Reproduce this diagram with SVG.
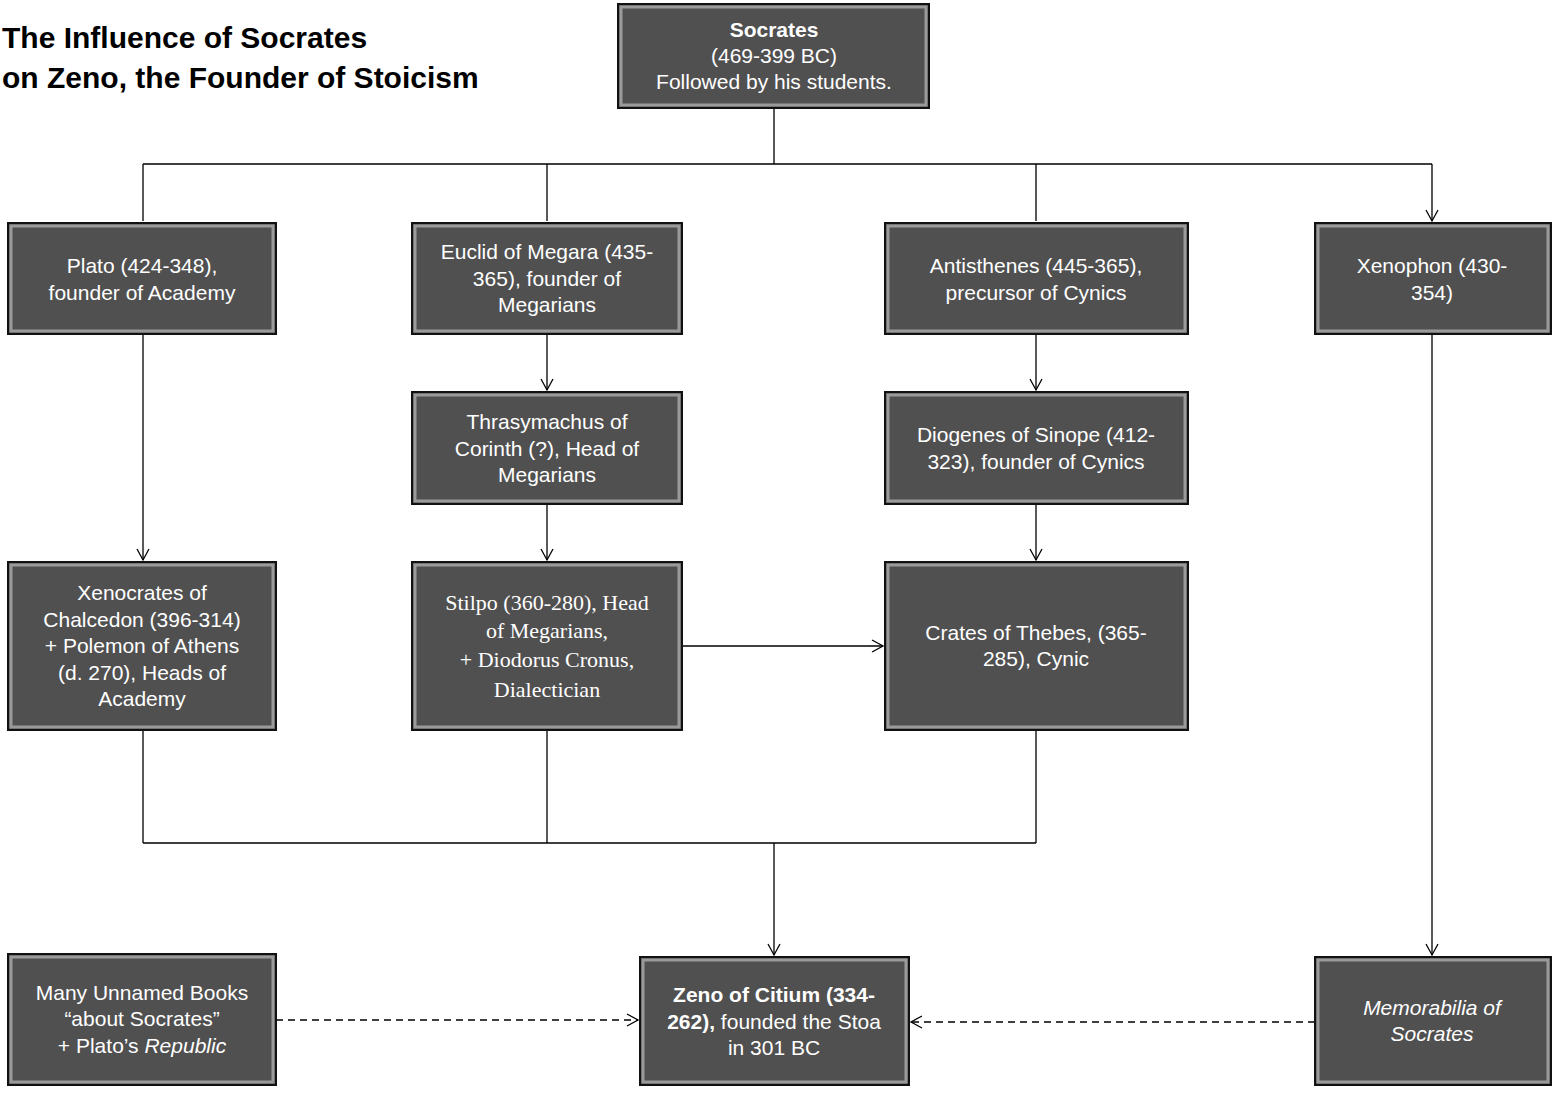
<svg xmlns="http://www.w3.org/2000/svg" width="1557" height="1096" viewBox="0 0 1557 1096">
<style>
.b{fill:#505050;stroke:#111;stroke-width:2}
.hi{fill:none;stroke:#9a9a9a;stroke-width:3}
.t{font-family:"Liberation Sans",Arial,sans-serif;font-size:21px;fill:#fff;text-anchor:middle}
.s{font-family:"Liberation Serif","Times New Roman",serif;font-size:22px;fill:#fff;text-anchor:middle}
.c{stroke:#000;stroke-width:1.3;fill:none}
.d{stroke-dasharray:7,5}
.ttl{font-family:"Liberation Sans",Arial,sans-serif;font-size:30px;font-weight:bold;fill:#000}
</style>
<defs>
<marker id="a" markerWidth="14" markerHeight="14" refX="12" refY="7" orient="auto" markerUnits="userSpaceOnUse"><path d="M1,1 L12,7 L1,13" fill="none" stroke="#000" stroke-width="1.3"/></marker>
</defs>
<text class="ttl" x="2" y="48">The Influence of Socrates</text>
<text class="ttl" x="2" y="88">on Zeno, the Founder of Stoicism</text>
<g id="connectors">
<path class="c" d="M774,108 V164 M143,164 H1432"/>
<path class="c" d="M143,164 V221 M547,164 V221 M1036,164 V221 M1432,164 V221" marker-end="url(#a)"/>
<path class="c" d="M143,334 V560" marker-end="url(#a)"/>
<path class="c" d="M547,334 V390" marker-end="url(#a)"/>
<path class="c" d="M547,504 V560" marker-end="url(#a)"/>
<path class="c" d="M1036,334 V390" marker-end="url(#a)"/>
<path class="c" d="M1036,504 V560" marker-end="url(#a)"/>
<path class="c" d="M1432,334 V955" marker-end="url(#a)"/>
<path class="c" d="M682,646 H883" marker-end="url(#a)"/>
<path class="c" d="M143,730 V843 M547,730 V843 M1036,730 V843 M143,843 H1036"/>
<path class="c" d="M774,843 V955" stroke-width="2" marker-end="url(#a)"/>
<path class="c d" d="M276,1020 H638" marker-end="url(#a)"/>
<path class="c d" d="M1315,1022 H911" marker-end="url(#a)"/>
</g>
<g id="socrates"><rect class="b" x="618" y="4" width="311" height="104"/><rect class="hi" x="621" y="7" width="305" height="98"/>
<text class="t" x="774" y="37" font-weight="bold">Socrates</text><text class="t" x="774" y="63">(469-399 BC)</text><text class="t" x="774" y="89">Followed by his students.</text></g>
<g id="plato"><rect class="b" x="8" y="223" width="268" height="111"/><rect class="hi" x="11" y="226" width="262" height="105"/>
<text class="t" x="142" y="273">Plato (424-348),</text><text class="t" x="142" y="300">founder of Academy</text></g>
<g id="euclid"><rect class="b" x="412" y="223" width="270" height="111"/><rect class="hi" x="415" y="226" width="264" height="105"/>
<text class="t" x="547" y="259">Euclid of Megara (435-</text><text class="t" x="547" y="286">365), founder of</text><text class="t" x="547" y="312">Megarians</text></g>
<g id="antisthenes"><rect class="b" x="885" y="223" width="303" height="111"/><rect class="hi" x="888" y="226" width="297" height="105"/>
<text class="t" x="1036" y="273">Antisthenes (445-365),</text><text class="t" x="1036" y="300">precursor of Cynics</text></g>
<g id="xenophon"><rect class="b" x="1315" y="223" width="236" height="111"/><rect class="hi" x="1318" y="226" width="230" height="105"/>
<text class="t" x="1432" y="273">Xenophon (430-</text><text class="t" x="1432" y="300">354)</text></g>
<g id="thrasymachus"><rect class="b" x="412" y="392" width="270" height="112"/><rect class="hi" x="415" y="395" width="264" height="106"/>
<text class="t" x="547" y="429">Thrasymachus of</text><text class="t" x="547" y="456">Corinth (?), Head of</text><text class="t" x="547" y="482">Megarians</text></g>
<g id="diogenes"><rect class="b" x="885" y="392" width="303" height="112"/><rect class="hi" x="888" y="395" width="297" height="106"/>
<text class="t" x="1036" y="442">Diogenes of Sinope (412-</text><text class="t" x="1036" y="469">323), founder of Cynics</text></g>
<g id="xenocrates"><rect class="b" x="8" y="562" width="268" height="168"/><rect class="hi" x="11" y="565" width="262" height="162"/>
<text class="t" x="142" y="600">Xenocrates of</text><text class="t" x="142" y="627">Chalcedon (396-314)</text><text class="t" x="142" y="653">+ Polemon of Athens</text><text class="t" x="142" y="680">(d. 270), Heads of</text><text class="t" x="142" y="706">Academy</text></g>
<g id="stilpo"><rect class="b" x="412" y="562" width="270" height="168"/><rect class="hi" x="415" y="565" width="264" height="162"/>
<text class="s" x="547" y="610">Stilpo (360-280), Head</text><text class="s" x="547" y="638">of Megarians,</text><text class="s" x="547" y="667">+ Diodorus Cronus,</text><text class="s" x="547" y="697">Dialectician</text></g>
<g id="crates"><rect class="b" x="885" y="562" width="303" height="168"/><rect class="hi" x="888" y="565" width="297" height="162"/>
<text class="t" x="1036" y="640">Crates of Thebes, (365-</text><text class="t" x="1036" y="666">285), Cynic</text></g>
<g id="books"><rect class="b" x="8" y="954" width="268" height="131"/><rect class="hi" x="11" y="957" width="262" height="125"/>
<text class="t" x="142" y="1000">Many Unnamed Books</text><text class="t" x="142" y="1026">“about Socrates”</text><text class="t" x="142" y="1053">+ Plato’s <tspan font-style="italic">Republic</tspan></text></g>
<g id="zeno"><rect class="b" x="640" y="957" width="269" height="128"/><rect class="hi" x="643" y="960" width="263" height="122"/>
<text class="t" x="774" y="1002"><tspan font-weight="bold">Zeno of Citium (334-</tspan></text><text class="t" x="774" y="1029"><tspan font-weight="bold">262),</tspan> founded the Stoa</text><text class="t" x="774" y="1055">in 301 BC</text></g>
<g id="memorabilia"><rect class="b" x="1315" y="957" width="236" height="128"/><rect class="hi" x="1318" y="960" width="230" height="122"/>
<text class="t" x="1432" y="1015" font-style="italic">Memorabilia of</text><text class="t" x="1432" y="1041" font-style="italic">Socrates</text></g>
</svg>
